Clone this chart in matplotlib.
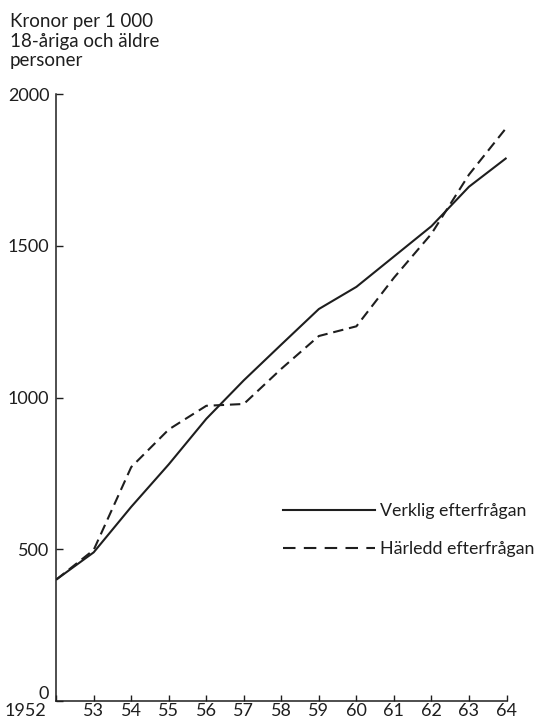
import matplotlib
matplotlib.use("Agg")
import matplotlib.pyplot as plt
import matplotlib.transforms as mtransforms
from matplotlib.lines import Line2D

plt.rcParams['font.family'] = ['Lato', 'DejaVu Sans']

# === Data ===
years = [1952, 1953, 1954, 1955, 1956, 1957, 1958, 1959, 1960, 1961, 1962, 1963, 1964]
verklig = [400, 490, 640, 780, 930, 1057, 1175, 1292, 1365, 1465, 1565, 1695, 1790]
harledd = [400, 498, 771, 895, 973, 979, 1095, 1203, 1235, 1395, 1540, 1735, 1890]

xtick_labels = ["1952", "53", "54", "55", "56", "57", "58", "59", "60", "61", "62", "63", "64"]
yticks = [0, 500, 1000, 1500, 2000]

ink = "#1e1e1e"
fs = 13

fig = plt.figure(figsize=(5.4, 7.19), dpi=100)
ax = fig.add_axes([0.104, 0.025, 0.834, 0.844])

ax.plot(years, verklig, color=ink, lw=1.5, solid_capstyle="butt")
ax.plot(years, harledd, color=ink, lw=1.5, dashes=(5, 2.8))

ax.set_xlim(1952, 1964)
ax.set_ylim(0, 2000)

for side in ["top", "right"]:
    ax.spines[side].set_visible(False)
for side in ["left", "bottom"]:
    ax.spines[side].set_color(ink)
    ax.spines[side].set_linewidth(1.1)

ax.set_xticks(years)
ax.set_xticklabels(xtick_labels)
ax.set_yticks(yticks)
ax.set_yticklabels([str(v) for v in yticks])
ax.tick_params(axis="x", direction="in", length=4, width=1.0, color=ink,
               labelsize=fs, pad=1.5, labelcolor=ink)
ax.tick_params(axis="y", direction="in", length=5, width=1.0, color=ink,
               labelsize=fs, pad=5, labelcolor=ink)

# first x label sits left of the axis corner
first = ax.get_xticklabels()[0]
first.set_horizontalalignment("right")
first.set_transform(first.get_transform() +
                    mtransforms.ScaledTranslation(-7 / 72, 0, fig.dpi_scale_trans))
# the zero label sits slightly above the axis line
zero = ax.get_yticklabels()[0]
zero.set_transform(zero.get_transform() +
                   mtransforms.ScaledTranslation(0, 6 / 72, fig.dpi_scale_trans))

fig.text(10 / 540, 1 - 13 / 719, "Kronor per 1 000\n18-åriga och äldre\npersoner",
         ha="left", va="top", fontsize=13.5, color=ink, linespacing=1.18)

handles = [
    Line2D([], [], color=ink, lw=1.5),
    Line2D([], [], color=ink, lw=1.5, dashes=(6, 4)),
]
ax.legend(handles, ["Verklig efterfrågan", "Härledd efterfrågan"],
          loc="upper left", bbox_to_anchor=(283 / 540, 1 - 503 / 719),
          bbox_transform=fig.transFigure, frameon=False, fontsize=12.8,
          handlelength=5.2, handletextpad=0.25, labelspacing=1.25, borderpad=0,
          borderaxespad=0, labelcolor=ink)

fig.savefig("out.png", dpi=100)
